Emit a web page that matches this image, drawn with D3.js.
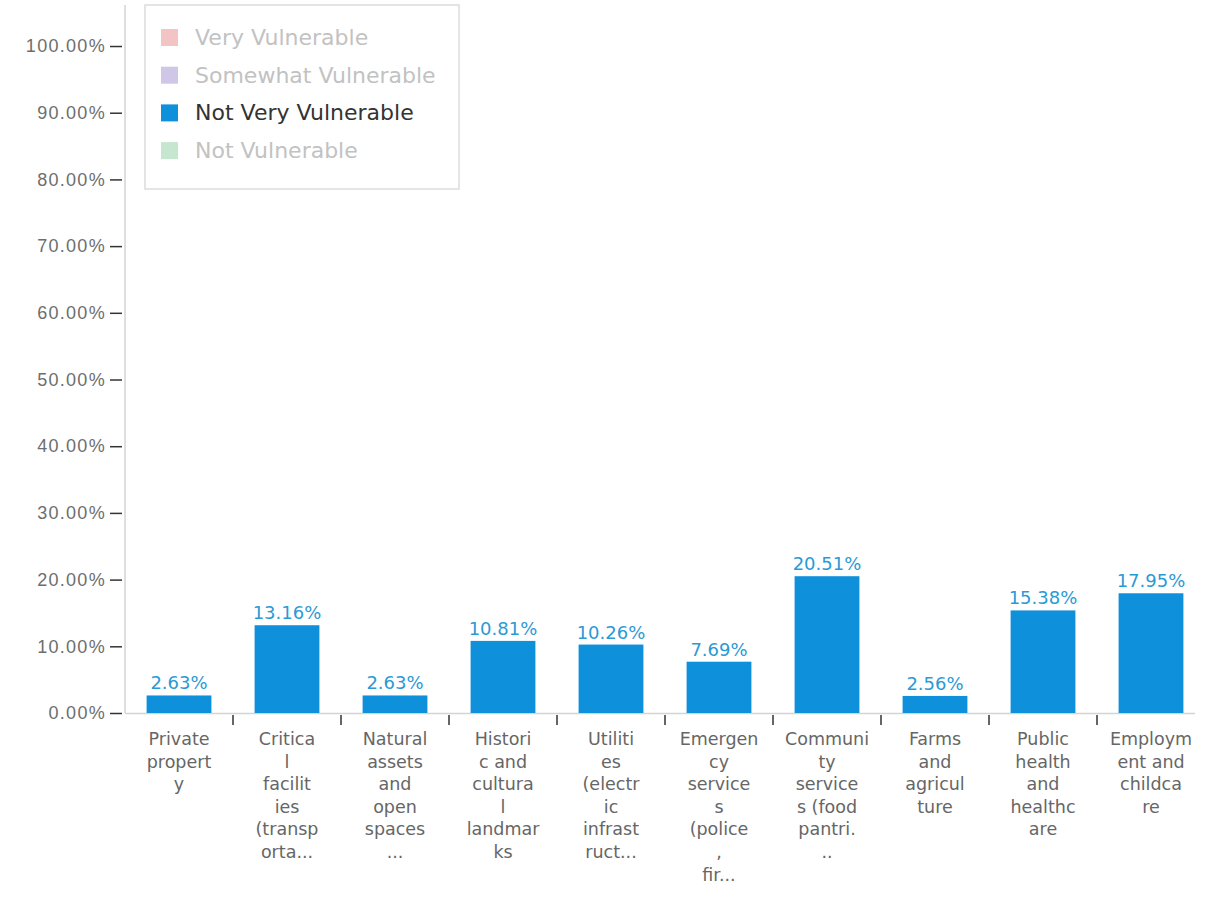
<!DOCTYPE html>
<html>
<head>
<meta charset="utf-8">
<script src="https://cdn.jsdelivr.net/npm/d3@7"></script>
<style>
  body { margin: 0; background: #fff; }
  svg { font-family: "DejaVu Sans", sans-serif; }
</style>
</head>
<body>
<div id="chart"></div>
<script>
// data
var categories = ['Private property', 'Critical facilities (transportation)', 'Natural assets and open spaces',
  'Historic and cultural landmarks', 'Utilities (electric infrastructure)', 'Emergency services (police, fire)',
  'Community services (food pantries)', 'Farms and agriculture', 'Public health and healthcare', 'Employment and childcare'];
var labelLines = [
  ['Private', 'propert', 'y'],
  ['Critica', 'l', 'facilit', 'ies', '(transp', 'orta...'],
  ['Natural', 'assets', 'and', 'open', 'spaces', '...'],
  ['Histori', 'c and', 'cultura', 'l', 'landmar', 'ks'],
  ['Utiliti', 'es', '(electr', 'ic', 'infrast', 'ruct...'],
  ['Emergen', 'cy', 'service', 's', '(police', ',', 'fir...'],
  ['Communi', 'ty', 'service', 's (food', 'pantri.', '..'],
  ['Farms', 'and', 'agricul', 'ture'],
  ['Public', 'health', 'and', 'healthc', 'are'],
  ['Employm', 'ent and', 'childca', 're']
];
var notVeryVulnerable = [0.0263, 0.1316, 0.0263, 0.1081, 0.1026, 0.0769, 0.2051, 0.0256, 0.1538, 0.1795];
var yTicks = [0, 0.1, 0.2, 0.3, 0.4, 0.5, 0.6, 0.7, 0.8, 0.9, 1.0];
var legendNames = ['Very Vulnerable', 'Somewhat Vulnerable', 'Not Very Vulnerable', 'Not Vulnerable'];
var legendColors = ['#f2c4c4', '#cfc6e8', '#0f90da', '#c6e6cf'];
var legendActive = [false, false, true, false];

var width = 1209, height = 897;
var x0 = 125, x1 = 1205, y0 = 713;

var svg = d3.select('#chart').append('svg')
    .attr('width', width)
    .attr('height', height);

var x = d3.scaleBand()
    .domain(d3.range(categories.length))
    .range([x0, x1])
    .paddingInner(0.4)
    .paddingOuter(0.2);

var y = d3.scaleLinear()
    .domain([0, 1.0615])
    .range([y0, 5]);

// y axis
var yAxis = svg.append('g')
    .attr('transform', 'translate(' + x0 + ',0)')
    .call(d3.axisLeft(y).tickValues(yTicks).tickFormat(d3.format('.2%')).tickSize(15).tickPadding(5));
yAxis.select('.domain').remove();
yAxis.selectAll('.tick line').attr('stroke', '#333').attr('stroke-width', 1.5).attr('x1', -3);
yAxis.selectAll('.tick text')
    .attr('fill', '#6e6e6e')
    .attr('x', -19)
    .style('letter-spacing', '1.3px')
    .style('font-size', '18px');

svg.append('line')
    .attr('x1', x0).attr('x2', x0)
    .attr('y1', y.range()[1]).attr('y2', y0)
    .attr('stroke', '#d4d4d4').attr('stroke-width', 1.5);

// x axis baseline
svg.append('line')
    .attr('x1', x0).attr('x2', x1 - 10)
    .attr('y1', y0 + 0.5).attr('y2', y0 + 0.5)
    .attr('stroke', '#d4d4d4').attr('stroke-width', 1.5);

// x separators
svg.selectAll('.sep')
    .data(d3.range(1, categories.length))
    .enter().append('line')
    .attr('class', 'sep')
    .attr('x1', function(d) { return x(d) - x.step() * 0.2; })
    .attr('x2', function(d) { return x(d) - x.step() * 0.2; })
    .attr('y1', y0 + 2).attr('y2', y0 + 12)
    .attr('stroke', '#333').attr('stroke-width', 1.5);

// bars
svg.selectAll('.bar')
    .data(notVeryVulnerable)
    .enter().append('rect')
    .attr('class', 'bar')
    .attr('x', function(d, i) { return x(i); })
    .attr('width', x.bandwidth())
    .attr('y', function(d) { return y(d); })
    .attr('height', function(d) { return y0 - y(d); })
    .style('fill', '#0f90da');

// value labels
svg.selectAll('.val')
    .data(notVeryVulnerable)
    .enter().append('text')
    .attr('class', 'val')
    .attr('x', function(d, i) { return x(i) + x.bandwidth() / 2; })
    .attr('y', function(d) { return y(d) - 6; })
    .attr('text-anchor', 'middle')
    .style('font-size', '18px')
    .style('fill', '#2a9ad6')
    .text(function(d) { return d3.format('.2%')(d); });

// category labels
var lab = svg.selectAll('.cat')
    .data(labelLines)
    .enter().append('text')
    .attr('class', 'cat')
    .attr('text-anchor', 'middle')
    .style('font-size', '17.5px')
    .style('fill', '#666')
    .attr('transform', function(d, i) { return 'translate(' + (x(i) + x.bandwidth() / 2) + ',' + (y0 + 32) + ')'; });
lab.selectAll('tspan')
    .data(function(d) { return d; })
    .enter().append('tspan')
    .attr('x', 0)
    .attr('y', function(d, j) { return j * 22.6; })
    .text(function(d) { return d; });

// legend
var legend = svg.append('g').attr('transform', 'translate(145,5)');
legend.append('rect')
    .attr('width', 314).attr('height', 184)
    .attr('fill', '#fff').attr('stroke', '#dcdcdc').attr('stroke-width', 1.5);
var item = legend.selectAll('.item')
    .data(legendNames)
    .enter().append('g')
    .attr('class', 'item')
    .attr('transform', function(d, i) { return 'translate(16,' + (24 + i * 37.7) + ')'; });
item.append('rect')
    .attr('width', 17).attr('height', 17)
    .attr('fill', function(d, i) { return legendColors[i]; });
item.append('text')
    .attr('x', 34).attr('y', 16)
    .style('font-size', '22px')
    .style('fill', function(d, i) { return legendActive[i] ? '#333' : '#c2c2c2'; })
    .text(function(d) { return d; });
</script>
</body>
</html>
